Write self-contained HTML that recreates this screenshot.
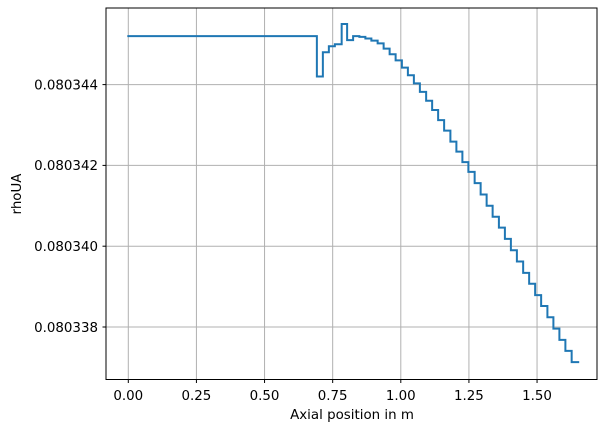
<!DOCTYPE html>
<html><head><meta charset="utf-8"><style>
body{margin:0;background:#fff;}
svg text{font-family:"DejaVu Sans","Liberation Sans",sans-serif;font-size:13.4px;fill:#000;}
</style></head><body>
<svg id="chart" width="611" height="432" xmlns="http://www.w3.org/2000/svg">
<g id="grid"></g>
<g id="ticks"></g>
<path id="series" fill="none" stroke="#1f77b4" stroke-width="2" stroke-linejoin="miter" stroke-linecap="square"/>
<rect x="106" y="8" width="491" height="371.5" fill="none" stroke="#000" stroke-width="1"/>
<text x="352" y="419" text-anchor="middle">Axial position in m</text>
<text transform="translate(21,194) rotate(-90)" text-anchor="middle">rhoUA</text>
</svg>
<script>
const xEdges = [0, 0.692, 0.714, 0.736, 0.758, 0.783, 0.803, 0.825, 0.848, 0.870, 0.892, 0.915, 0.937, 0.959, 0.981, 1.004, 1.026, 1.048, 1.070, 1.093, 1.115, 1.137, 1.159, 1.182, 1.204, 1.226, 1.248, 1.271, 1.293, 1.315, 1.337, 1.360, 1.382, 1.404, 1.426, 1.449, 1.471, 1.493, 1.515, 1.538, 1.560, 1.582, 1.604, 1.627, 1.651];
const rhoUA = [0.0803452, 0.0803442, 0.0803448, 0.08034495, 0.0803450, 0.0803455, 0.0803451, 0.0803452, 0.08034518, 0.08034514, 0.08034509, 0.08034502, 0.08034489, 0.08034475, 0.0803446, 0.08034442, 0.08034423, 0.08034403, 0.08034382, 0.0803436, 0.08034337, 0.08034312, 0.08034286, 0.08034259, 0.08034234, 0.08034208, 0.08034184, 0.08034156, 0.08034128, 0.080341, 0.08034073, 0.08034046, 0.08034018, 0.0803399, 0.08033962, 0.08033934, 0.08033907, 0.08033879, 0.08033852, 0.08033824, 0.08033796, 0.08033768, 0.08033741, 0.08033713];
const xTicks = [0, 0.25, 0.5, 0.75, 1.0, 1.25, 1.5];
const xTickLabels = ["0.00", "0.25", "0.50", "0.75", "1.00", "1.25", "1.50"];
const yTicks = [0.080338, 0.080340, 0.080342, 0.080344];
const yTickLabels = ["0.080338", "0.080340", "0.080342", "0.080344"];

const X = v => 128.3 + v * 272.5;
const Y = v => 84.6 + (0.080344 - v) / 2e-6 * 80.8;
const NS = "http://www.w3.org/2000/svg";
const grid = document.getElementById('grid'), ticks = document.getElementById('ticks');
function mk(tag, attrs, parent){const e=document.createElementNS(NS,tag);for(const k in attrs)e.setAttribute(k,attrs[k]);parent.appendChild(e);return e;}
xTicks.forEach((t,i)=>{
  const x=X(t);
  const g=mk('line',{x1:x,x2:x,y1:8,y2:379.5,stroke:'#b0b0b0','stroke-width':1},grid);
  
  
  const tk=mk('line',{x1:x,x2:x,y1:379.5,y2:383,stroke:'#000','stroke-width':1},ticks);
  
  
  const tx=mk('text',{x:x,y:400,'text-anchor':'middle'},ticks);
  tx.textContent=xTickLabels[i];
  
  
});
yTicks.forEach((t,i)=>{
  const y=Y(t);
  const g=mk('line',{x1:106,x2:597,y1:y,y2:y,stroke:'#b0b0b0','stroke-width':1},grid);
  
  
  const tk=mk('line',{x1:102.5,x2:106,y1:y,y2:y,stroke:'#000','stroke-width':1},ticks);
  
  
  const tx=mk('text',{x:98,y:y+4.8,'text-anchor':'end'},ticks);
  tx.textContent=yTickLabels[i];
  
  
});
let d='';
rhoUA.forEach((v,i)=>{
  const y=Y(v);
  d += (i===0?'M':'L') + X(xEdges[i]) + ',' + y + 'L' + X(xEdges[i+1]) + ',' + y;
});
document.getElementById('series').setAttribute('d',d);
</script>
</body></html>
